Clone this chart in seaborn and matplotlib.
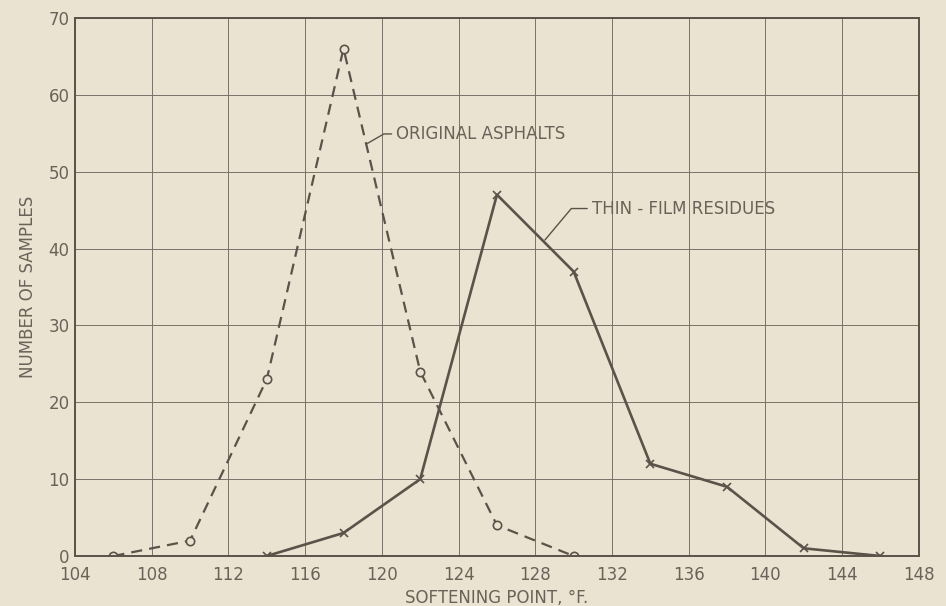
import pandas as pd
import matplotlib.pyplot as plt
import seaborn as sns

# Softening point data
orig_temp = [106, 110, 114, 118, 122, 126, 130]
orig_count = [0, 2, 23, 66, 24, 4, 0]

film_temp = [114, 118, 122, 126, 130, 134, 138, 142, 146]
film_count = [0, 3, 10, 47, 37, 12, 9, 1, 0]

x_ticks = list(range(104, 149, 4))
y_ticks = list(range(0, 71, 10))

bg = "#ebe3d1"
ink = "#5b5249"
txt = "#6a6259"

sns.set_style("white")
plt.rcParams["font.family"] = ["DejaVu Sans"]

fig = plt.figure(figsize=(9.46, 6.06), dpi=100, facecolor=bg)
ax = fig.add_axes([0.0793, 0.0825, 0.892, 0.888])
ax.set_facecolor(bg)

orig = pd.DataFrame({"temp": orig_temp, "count": orig_count})
film = pd.DataFrame({"temp": film_temp, "count": film_count})

sns.lineplot(data=orig, x="temp", y="count", ax=ax, color=ink, linewidth=1.6,
             linestyle=(0, (5, 3.2)), marker="o", markersize=6,
             markerfacecolor=bg, markeredgecolor=ink, markeredgewidth=1.2)
sns.lineplot(data=film, x="temp", y="count", ax=ax, color=ink, linewidth=1.9,
             marker="x", markersize=6, markeredgecolor=ink, markeredgewidth=1.2)

ax.set_xlim(104, 148)
ax.set_ylim(0, 70)
ax.set_xticks(x_ticks)
ax.set_yticks(y_ticks)
ax.grid(True, color="#7a7268", linewidth=0.7)
ax.tick_params(axis="x", length=0, labelsize=12, labelcolor=txt, pad=7)
ax.tick_params(axis="y", length=0, labelsize=12, labelcolor=txt, pad=4)
for s in ax.spines.values():
    s.set_color(ink)
    s.set_linewidth(1.4)

ax.set_xlabel("SOFTENING POINT, °F.", fontsize=12, color=txt, labelpad=4)
ax.set_ylabel("NUMBER OF SAMPLES", fontsize=12, color=txt, labelpad=8)

ax.annotate("ORIGINAL ASPHALTS", xy=(119.2, 53.6), xytext=(120.75, 54.9),
            fontsize=12, color=txt, va="center", ha="left",
            arrowprops=dict(arrowstyle="-", color=ink, lw=1.0,
                            connectionstyle="angle,angleA=0,angleB=30,rad=0",
                            shrinkA=1, shrinkB=0))
ax.annotate("THIN - FILM RESIDUES", xy=(128.5, 41.1), xytext=(130.95, 45.2),
            fontsize=12, color=txt, va="center", ha="left",
            arrowprops=dict(arrowstyle="-", color=ink, lw=1.0,
                            connectionstyle="angle,angleA=0,angleB=50,rad=0",
                            shrinkA=1, shrinkB=0))

fig.savefig("out.png", dpi=100, facecolor=bg)
plt.close(fig)
